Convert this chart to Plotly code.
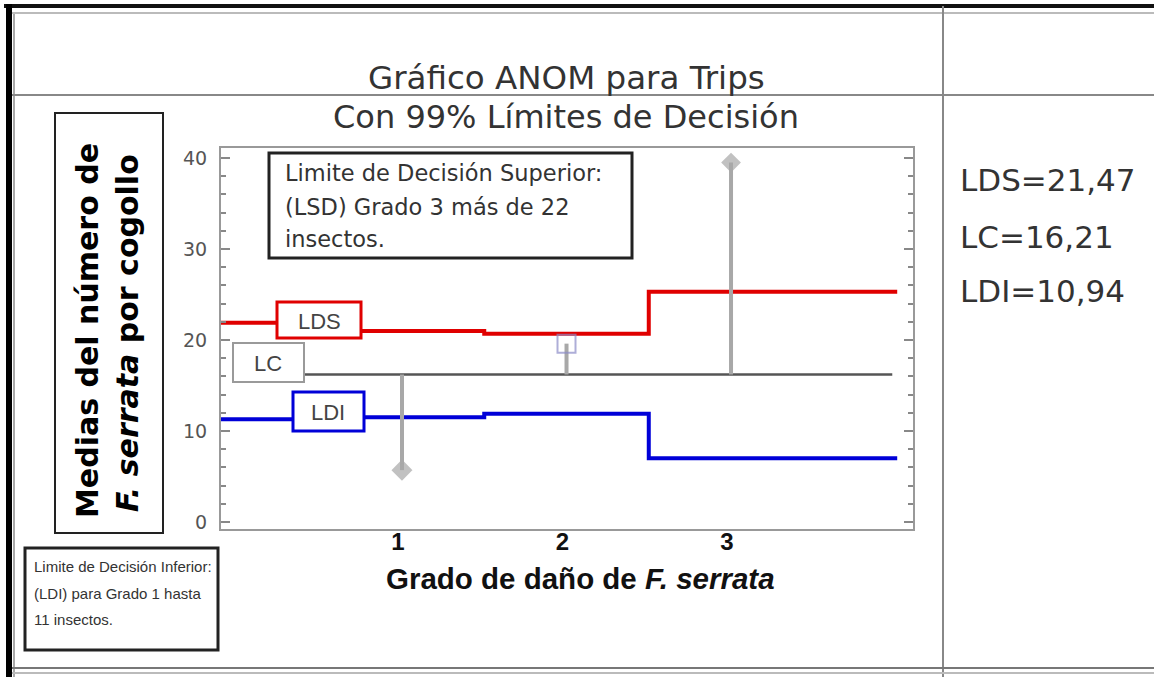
import plotly.graph_objects as go

# ---------------- data ----------------
grades = [1, 2, 3]
grade_labels = ["1", "2", "3"]
group_means = [5.7, 19.6, 39.5]
center_line = 16.21

step_edges = [-0.10, 0.5, 1.5, 2.5, 4.01]
lds_values = [21.9, 21.0, 20.7, 25.3]
ldi_values = [11.3, 11.5, 11.9, 7.0]
lc_span = [0.0, 3.98]

y_ticks = [0, 10, 20, 30, 40]

title_lines = ["Gráfico ANOM para Trips", "Con 99% Límites de Decisión"]
summary_lines = ["LDS=21,47", "LC=16,21", "LDI=10,94"]
upper_note = ["Limite de Decisión Superior:", "(LSD) Grado 3 más de 22", "insectos."]
lower_note = ["Limite de Decisión Inferior:", "(LDI) para Grado 1 hasta", "11 insectos."]
y_title = ["<b>Medias del número de</b>", "<b><i>F. serrata</i> por cogollo</b>"]
x_title = "<b>Grado de daño de <i>F. serrata</i></b>"

# ---------------- layout geometry ----------------
W, H = 1154, 677
L, R, T, B = 221, 913, 148, 529
PW, PH = R - L, B - T


def px(x):
    return (x - L) / PW


def py(y):
    return (B - y) / PH


fig = go.Figure()

# step limit lines
fig.add_trace(go.Scatter(x=step_edges, y=lds_values + [lds_values[-1]], mode="lines",
                         line=dict(color="#e00000", width=4, shape="hv"), hoverinfo="skip"))
fig.add_trace(go.Scatter(x=step_edges, y=ldi_values + [ldi_values[-1]], mode="lines",
                         line=dict(color="#0000d8", width=4, shape="hv"), hoverinfo="skip"))
fig.add_trace(go.Scatter(x=lc_span, y=[center_line, center_line], mode="lines",
                         line=dict(color="#555555", width=2.5), hoverinfo="skip"))

# stems from centre line to each mean
for g, m in zip(grades, group_means):
    fig.add_trace(go.Scatter(x=[g, g], y=[center_line, m], mode="lines",
                             line=dict(color="#a8a8a8", width=4), hoverinfo="skip"))

marker_symbols = ["diamond", "square-open", "diamond"]
marker_colors = ["#a8a8a8", "#8c8cc8", "#a8a8a8"]
marker_sizes = [14, 18, 13]
fig.add_trace(go.Scatter(x=grades, y=group_means, mode="markers",
                         marker=dict(symbol=marker_symbols, color=marker_colors, size=marker_sizes,
                                     line=dict(width=2, color=marker_colors))))

shapes = []
annotations = []

# frame lines of the page
shapes.append(dict(type="line", xref="paper", yref="paper", x0=px(4), x1=px(W), y0=py(6), y1=py(6),
                   line=dict(color="#111111", width=4)))
shapes.append(dict(type="line", xref="paper", yref="paper", x0=px(12), x1=px(W), y0=py(13), y1=py(13),
                   line=dict(color="#bbbbbb", width=2)))
shapes.append(dict(type="line", xref="paper", yref="paper", x0=px(9), x1=px(9), y0=py(4), y1=py(H),
                   line=dict(color="#000000", width=6)))
shapes.append(dict(type="line", xref="paper", yref="paper", x0=px(14), x1=px(14), y0=py(14), y1=py(H),
                   line=dict(color="#aaaaaa", width=2)))
shapes.append(dict(type="line", xref="paper", yref="paper", x0=px(12), x1=px(W), y0=py(95), y1=py(95),
                   line=dict(color="#888888", width=2)))
shapes.append(dict(type="line", xref="paper", yref="paper", x0=px(943), x1=px(943), y0=py(6), y1=py(H),
                   line=dict(color="#888888", width=2)))
shapes.append(dict(type="line", xref="paper", yref="paper", x0=px(12), x1=px(W), y0=py(668), y1=py(668),
                   line=dict(color="#777777", width=2)))
shapes.append(dict(type="line", xref="paper", yref="paper", x0=px(12), x1=px(W), y0=py(673), y1=py(673),
                   line=dict(color="#bbbbbb", width=2)))


def box(x0, y0, x1, y1, color, width):
    shapes.append(dict(type="rect", xref="paper", yref="paper", layer="above",
                       x0=px(x0), x1=px(x1), y0=py(y1), y1=py(y0),
                       line=dict(color=color, width=width), fillcolor="white"))


def text(x, y, s, size, color="#333333", family="DejaVu Sans", xanchor="left", angle=0):
    annotations.append(dict(xref="paper", yref="paper", x=px(x), y=py(y), text=s, showarrow=False,
                            xanchor=xanchor, yanchor="middle", textangle=angle,
                            font=dict(size=size, color=color, family=family)))


# y-axis title box
box(55, 113, 163, 533, "#222222", 2)
text(87, 331, y_title[0], 30, "#000000", "DejaVu Sans", "center", -90)
text(127, 333, y_title[1], 30, "#000000", "DejaVu Sans", "center", -90)

# upper note
box(269, 153, 632, 258, "#222222", 3)
for yy, s in zip([173, 207, 239], upper_note):
    text(283, yy, s, 22.5)

# lower note
box(25, 548, 218, 650, "#222222", 3)
for yy, s in zip([566, 593, 619], lower_note):
    text(32, yy, s, 15, "#333333", "Liberation Sans")

# limit labels
box(277, 302, 361, 338, "#e00000", 3)
text(319, 321, "LDS", 22, "#444444", "Liberation Sans", "center")
box(233, 343, 304, 382, "#9a9a9a", 2)
text(268, 363, "LC", 22, "#444444", "Liberation Sans", "center")
box(293, 392, 364, 431, "#0000d8", 3)
text(328, 412, "LDI", 22, "#444444", "Liberation Sans", "center")

# titles
text(566, 78, title_lines[0], 32.5, "#333333", "DejaVu Sans", "center")
text(566, 117, title_lines[1], 32, "#333333", "DejaVu Sans", "center")

# summary values
for yy, s in zip([180, 237, 291], summary_lines):
    text(958, yy, s, 31, "#333333", "DejaVu Sans", "left")

# x title
text(580, 578, x_title, 29.5, "#111111", "Liberation Sans", "center")

fig.update_layout(
    width=W, height=H,
    margin=dict(l=L, r=W - R, t=T, b=H - B, pad=0),
    paper_bgcolor="white", plot_bgcolor="white",
    showlegend=False,
    shapes=shapes, annotations=annotations,
    xaxis=dict(range=[-0.10, 4.106], tickvals=grades,
               ticktext=["<b>%s</b>" % t for t in grade_labels],
               tickfont=dict(size=24, color="#111111", family="Liberation Sans"),
               showline=True, mirror=True, linecolor="#999999", linewidth=2,
               ticks="", showgrid=False, zeroline=False, ticklabelshift=-4,
               ticklabelstandoff=-10),
    yaxis=dict(range=[-0.77, 41.1], tickvals=y_ticks,
               tickfont=dict(size=19, color="#555555", family="DejaVu Sans"),
               showline=True, mirror="ticks", linecolor="#999999", linewidth=2,
               ticks="inside", ticklen=9, tickwidth=2, tickcolor="#888888",
               minor=dict(ticks="inside", dtick=2, ticklen=5, tickwidth=2, tickcolor="#888888"),
               showgrid=False, zeroline=False, ticklabelstandoff=8),
)

fig.write_html("out.html", config={"displayModeBar": False},
               post_script="document.body.style.margin='0';")
